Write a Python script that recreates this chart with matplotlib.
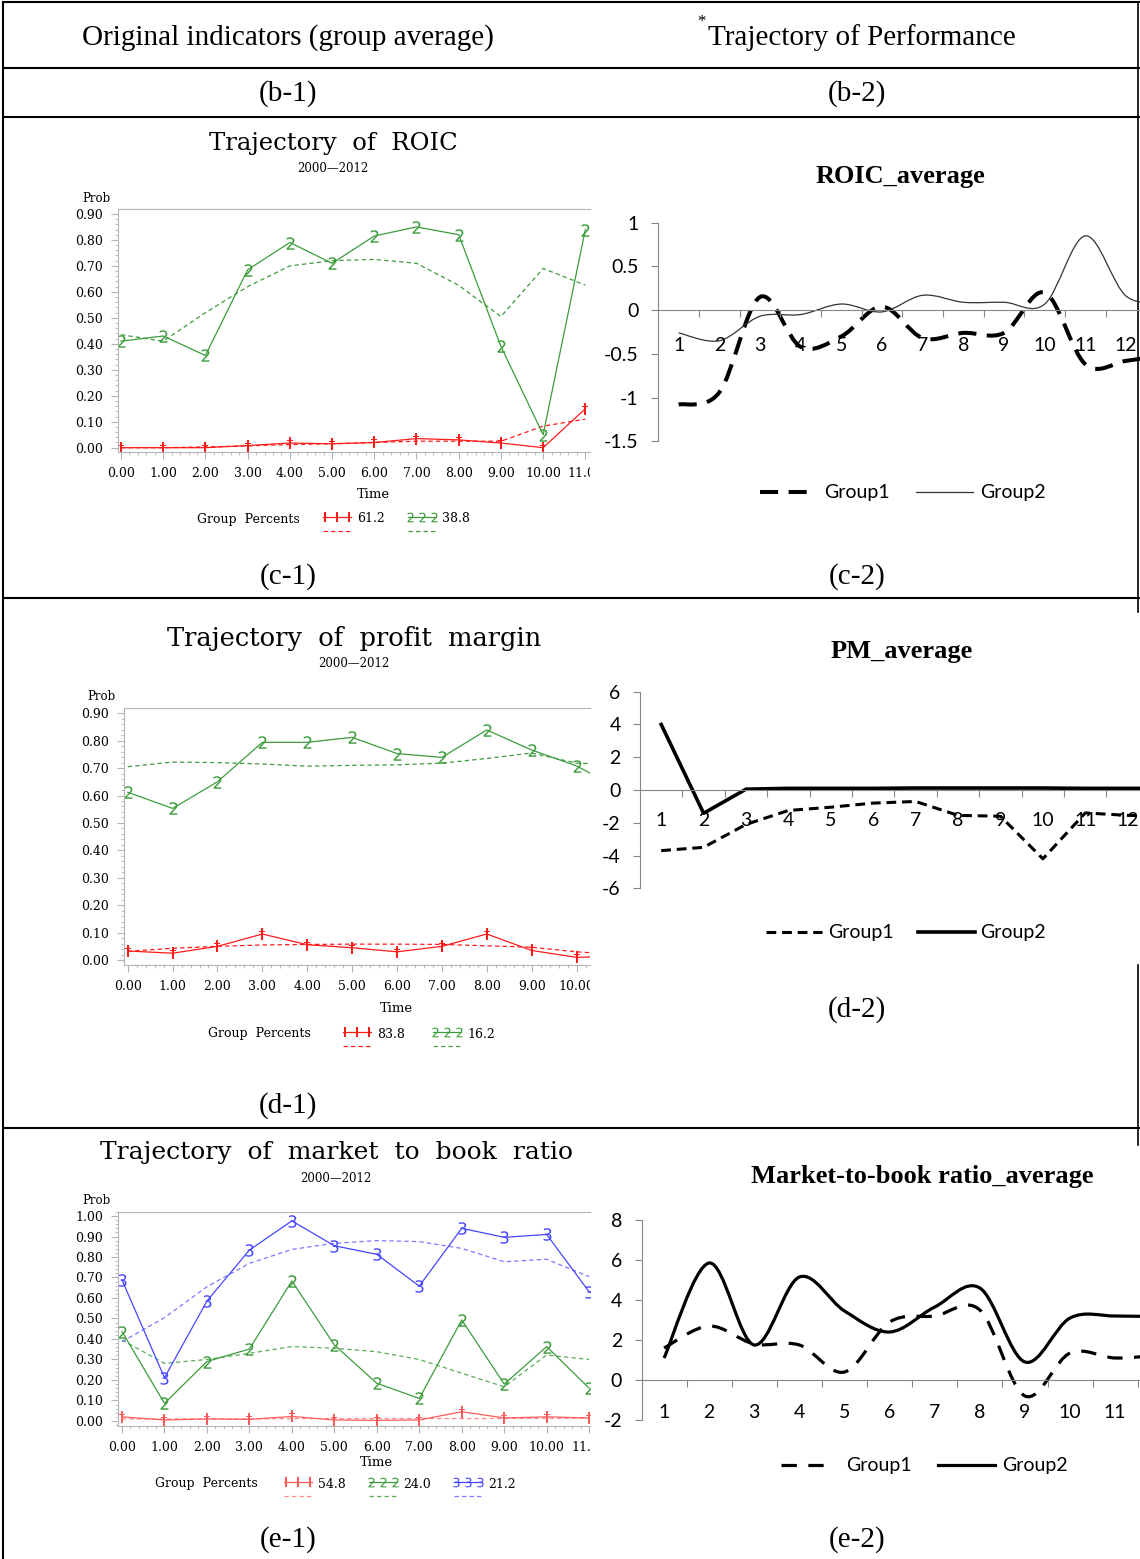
import numpy as np
import matplotlib
matplotlib.use("Agg")
import matplotlib.pyplot as plt
from matplotlib.path import Path
from matplotlib.patches import PathPatch
from matplotlib.ticker import MultipleLocator
from matplotlib.transforms import Bbox, TransformedBbox

plt.rcParams["axes.unicode_minus"] = False

W, H = 1140, 1559
SERIF = "DejaVu Serif"      # SAS graph text
TIMES = "Liberation Serif"  # table / excel titles
SANS = "Lato"               # excel axis text

RED, GREEN, BLUE = "#ff1a1a", "#3c9c3c", "#4646ff"
AXGRAY = "#b4b4b4"
XLGRAY = "#868686"

# ---------------- data: SAS group trajectories (time 0..11) ----------------
time_idx = list(range(12))

roic_g1_obs = [0.0, 0.0, 0.0, 0.008, 0.018, 0.015, 0.02, 0.035, 0.03, 0.018, 0.0, 0.15]
roic_g1_pred = [0.0, 0.0, 0.003, 0.007, 0.012, 0.015, 0.02, 0.025, 0.025, 0.025, 0.083, 0.11]
roic_g2_obs = [0.41, 0.43, 0.355, 0.685, 0.79, 0.71, 0.815, 0.85, 0.82, 0.39, 0.05, 0.84]
roic_g2_pred = [0.435, 0.41, 0.52, 0.62, 0.70, 0.72, 0.725, 0.71, 0.625, 0.505, 0.69, 0.626]
roic_pct = ["61.2", "38.8"]

pm_g1_obs = [0.033, 0.025, 0.05, 0.095, 0.056, 0.045, 0.03, 0.05, 0.095, 0.035, 0.01, 0.015]
pm_g1_pred = [0.032, 0.043, 0.05, 0.055, 0.057, 0.058, 0.058, 0.057, 0.052, 0.047, 0.03, 0.02]
pm_g2_obs = [0.612, 0.553, 0.65, 0.794, 0.794, 0.812, 0.753, 0.739, 0.839, 0.766, 0.708, 0.62]
pm_g2_pred = [0.705, 0.722, 0.72, 0.715, 0.707, 0.71, 0.712, 0.718, 0.735, 0.755, 0.718, 0.715]
pm_pct = ["83.8", "16.2"]

mb_g1_obs = [0.02, 0.005, 0.01, 0.008, 0.022, 0.005, 0.003, 0.005, 0.045, 0.015, 0.02, 0.015]
mb_g1_pred = [0.01, 0.01, 0.01, 0.01, 0.012, 0.012, 0.012, 0.012, 0.012, 0.012, 0.013, 0.013]
mb_g2_obs = [0.436, 0.086, 0.29, 0.351, 0.683, 0.371, 0.184, 0.11, 0.493, 0.18, 0.363, 0.16]
mb_g2_pred = [0.395, 0.281, 0.30, 0.33, 0.363, 0.355, 0.338, 0.30, 0.233, 0.167, 0.322, 0.30]
mb_g3_obs = [0.688, 0.211, 0.585, 0.834, 0.976, 0.855, 0.813, 0.658, 0.94, 0.896, 0.91, 0.63]
mb_g3_pred = [0.387, 0.504, 0.655, 0.769, 0.837, 0.867, 0.88, 0.875, 0.842, 0.777, 0.789, 0.704]
mb_pct = ["54.8", "24.0", "21.2"]

# ---------------- data: Excel group averages (year 1..) ----------------
roic_years = list(range(1, 14))
roic_avg_g1 = [-1.08, -0.94, 0.15, -0.42, -0.30, 0.04, -0.32, -0.26, -0.26, 0.20, -0.62, -0.58, -0.5]
roic_avg_g2 = [-0.26, -0.35, -0.07, -0.05, 0.07, -0.02, 0.17, 0.09, 0.09, 0.07, 0.85, 0.16, 0.1]

pm_years = list(range(1, 14))
pm_avg_g1 = [-3.7, -3.5, -2.1, -1.25, -1.05, -0.8, -0.7, -1.55, -1.6, -4.2, -1.4, -1.55, -1.6]
pm_avg_g2 = [4.0, -1.42, 0.05, 0.1, 0.1, 0.1, 0.12, 0.12, 0.12, 0.12, 0.1, 0.1, 0.1]

mb_years = list(range(1, 13))
mb_avg_g1 = [1.6, 2.7, 1.8, 1.75, 0.4, 2.9, 3.2, 3.5, -0.8, 1.35, 1.1, 1.25]
mb_avg_g2 = [1.1, 5.85, 1.75, 5.15, 3.45, 2.4, 3.65, 4.6, 0.9, 3.1, 3.2, 3.15]

fig = plt.figure(figsize=(W / 100, H / 100), dpi=100)

# overlay in pixel coordinates for the table frame and captions
ov = fig.add_axes([0, 0, 1, 1], zorder=0)
ov.set_xlim(0, W)
ov.set_ylim(H, 0)
ov.axis("off")


def px_axes(x0, y0, x1, y1):
    ax = fig.add_axes([x0 / W, 1 - y1 / H, (x1 - x0) / W, (y1 - y0) / H], zorder=1)
    ax.set_facecolor("none")
    return ax


def smooth_path(xs, ys):
    # excel-style smoothed line as cubic bezier segments
    pts = np.column_stack([xs, ys]).astype(float)
    n = len(pts)
    verts, codes = [pts[0]], [Path.MOVETO]
    for i in range(n - 1):
        p0 = pts[i - 1] if i > 0 else pts[i]
        p1, p2 = pts[i], pts[i + 1]
        p3 = pts[i + 2] if i + 2 < n else pts[i + 1]
        verts += [p1 + (p2 - p0) / 6, p2 - (p3 - p1) / 6, p2]
        codes += [Path.CURVE4] * 3
    return Path(verts, codes)


# ---------------- table frame ----------------
LW = 1.5
for y in [2, 68, 117, 598, 1128]:
    ov.plot([3, W], [y, y], color="k", lw=LW, solid_capstyle="butt")
ov.plot([3, 3], [2, H], color="k", lw=LW)
for ya, yb in [(2, 117), (117, 612), (965, 1145)]:
    ov.plot([1138, 1138], [ya, yb], color="k", lw=1.2)

ov.text(288, 38, "Original indicators (group average)", ha="center", va="center",
        fontsize=21, family=TIMES)
ov.text(862, 38, "Trajectory of Performance", ha="center", va="center",
        fontsize=21, family=TIMES)
ov.text(701, 22, "*", ha="center", va="center", fontsize=12, family=TIMES)
for x, y, s in [(288, 94, "(b-1)"), (857, 94, "(b-2)"), (288, 577, "(c-1)"), (857, 577, "(c-2)"),
                (288, 1106, "(d-1)"), (857, 1010, "(d-2)"), (288, 1540, "(e-1)"), (857, 1540, "(e-2)")]:
    ov.text(x, y, s, ha="center", va="center", fontsize=21, family=TIMES)


# ---------------- SAS panels ----------------
def sas_panel(rect, xlim, ylim, yticks, groups, title, tsize, tpos, prob_pos, time_pos, xlab_y,
              legend_y, legend_left, legend_samples):
    ax = px_axes(*rect)
    for s in ["top", "left", "bottom"]:
        ax.spines[s].set_color(AXGRAY)
        ax.spines[s].set_linewidth(0.8)
    ax.spines["right"].set_visible(False)
    ax.set_xticks(time_idx, labels=[f"{v:.2f}" for v in time_idx], fontfamily=SERIF, fontsize=9)
    ax.set_yticks(yticks, labels=[f"{v:.2f}" for v in yticks], fontfamily=SERIF, fontsize=9)
    ax.xaxis.set_minor_locator(MultipleLocator(0.2))
    ax.yaxis.set_minor_locator(MultipleLocator(0.02))
    ax.tick_params(which="major", length=5, color=AXGRAY, width=0.8, pad=6)
    ax.tick_params(which="minor", length=2.5, color=AXGRAY, width=0.6)
    clip = TransformedBbox(Bbox.from_extents(0, 0, 590 / W, 1), fig.transFigure)
    for lbl in ax.get_xticklabels():
        lbl.set_clip_box(clip)
        lbl.set_clip_on(True)
    for obs, pred, color, pcolor, mk in groups:
        ax.plot(time_idx, pred, color=pcolor, lw=0.9, ls=(0, (3.5, 2.5)))
        ax.plot(time_idx, obs, color=color, lw=0.9, marker=mk, ms=9, mew=0, mfc=color)
    ax.set_xlim(*xlim)
    ax.set_ylim(*ylim)
    ov.text(tpos[0], tpos[1], title, ha="center", va="center", fontsize=tsize, family=SERIF)
    ov.text(tpos[0], tpos[1] + 25, "2000\u20142012", ha="center", va="center", fontsize=8.5,
            family=SERIF)
    ov.text(prob_pos[0], prob_pos[1], "Prob", ha="left", va="center", fontsize=8.5, family=SERIF)
    ov.text(time_pos, xlab_y, "Time", ha="center", va="center", fontsize=9.5, family=SERIF)
    ov.text(legend_left, legend_y + 2, "Group  Percents", ha="left", va="center", fontsize=9,
            family=SERIF)
    for (xa, pct), (obs, pred, color, pcolor, mk) in zip(legend_samples, groups):
        ov.plot([xa, xa + 28], [legend_y, legend_y], color=color, lw=0.9)
        ov.plot([xa + 2, xa + 14, xa + 26], [legend_y] * 3, ls="none", marker=mk, ms=7, mew=0,
                color=color)
        ov.plot([xa, xa + 28], [legend_y + 14, legend_y + 14], color=pcolor, lw=0.9,
                ls=(0, (3.5, 2.5)))
        ov.text(xa + 34, legend_y + 2, pct, ha="left", va="center", fontsize=9, family=SERIF)
    return ax


M1, M2, M3 = r"$\dagger$", "$2$", "$3$"
y09 = [round(0.1 * i, 2) for i in range(10)]
y10 = [round(0.1 * i, 2) for i in range(11)]

sas_panel((118, 209, 590, 452), (-0.071, 11.11), (-0.0166, 0.919), y09,
          [(roic_g1_obs, roic_g1_pred, RED, RED, M1), (roic_g2_obs, roic_g2_pred, GREEN, GREEN, M2)],
          "Trajectory  of  ROIC", 17.5, (333, 143), (82, 198), 373, 494, 517, 197,
          [(323, roic_pct[0]), (408, roic_pct[1])])

sas_panel((124.3, 708.3, 590, 965), (-0.076, 10.30), (-0.018, 0.918), y09,
          [(pm_g1_obs, pm_g1_pred, RED, RED, M1), (pm_g2_obs, pm_g2_pred, GREEN, GREEN, M2)],
          "Trajectory  of  profit  margin", 18.5, (354, 638), (87, 696), 396, 1008, 1032, 208,
          [(343, pm_pct[0]), (433, pm_pct[1])])

sas_panel((118.3, 1211.7, 590, 1425.7), (-0.087, 11.02), (-0.023, 1.021), y10,
          [(mb_g1_obs, mb_g1_pred, "#ff5a5a", "#ff8a8a", M1),
           (mb_g2_obs, mb_g2_pred, GREEN, "#5aae5a", M2),
           (mb_g3_obs, mb_g3_pred, BLUE, "#7a7aff", M3)],
          "Trajectory  of  market  to  book  ratio", 18, (336, 1153), (82, 1201), 376, 1462, 1482,
          155, [(284, mb_pct[0]), (369, mb_pct[1]), (454, mb_pct[2])])


# ---------------- Excel panels ----------------
def excel_panel(rect, xlim, ylim, ystep, years, g1, g2, smooth, st1, st2, xpad, title, tpos,
                leg):
    ax = px_axes(*rect)
    ax.spines["top"].set_visible(False)
    ax.spines["right"].set_visible(False)
    ax.spines["bottom"].set_position(("data", 0))
    for s in ["left", "bottom"]:
        ax.spines[s].set_color(XLGRAY)
        ax.spines[s].set_linewidth(0.8)
    yt = np.arange(ylim[0], ylim[1] + 1e-9, ystep)
    ax.set_yticks(yt, labels=[f"{v:g}" for v in yt], fontfamily=SANS, fontsize=14)
    ax.set_xticks(np.arange(1.5, len(years) + 0.5, 1.0), labels=[])
    ax.set_xticks(years, labels=[str(v) for v in years], minor=True, fontfamily=SANS, fontsize=14)
    ax.tick_params(axis="y", length=5, color=XLGRAY, pad=9)
    ax.tick_params(axis="x", which="major", length=5, color=XLGRAY)
    ax.tick_params(axis="x", which="minor", length=0, pad=xpad)
    for ys, st in [(g1, st1), (g2, st2)]:
        if smooth:
            ax.add_patch(PathPatch(smooth_path(years, ys), fill=False, **st))
        else:
            ax.plot(years, ys, **st)
    ax.set_xlim(*xlim)
    ax.set_ylim(*ylim)
    ov.text(tpos[0], tpos[1], title, ha="center", va="center", fontsize=19, family=TIMES,
            fontweight="bold")
    (d0, d1, t1, s0, s1, t2, ly) = leg
    ov.plot([d0, d1], [ly, ly], **st1)
    ov.text(t1, ly, "Group1", ha="left", va="center", fontsize=14, family=SANS)
    ov.plot([s0, s1], [ly, ly], **st2)
    ov.text(t2, ly, "Group2", ha="left", va="center", fontsize=14, family=SANS)
    return ax


dash_roic = dict(color="k", lw=2.9, ls=(0, (4.5, 2.6)))
thin_roic = dict(color="#333333", lw=0.9)
excel_panel((658.3, 222.7, 1140, 441.3), (0.5, 12.34), (-1.5, 1.0), 0.5, roic_years,
            roic_avg_g1, roic_avg_g2, True, dash_roic, thin_roic, 19, "ROIC_average", (900, 176),
            (760, 808, 824, 916, 973, 980, 492))

dash_pm = dict(color="k", lw=2.2, ls=(0, (3.2, 1.9)))
solid_pm = dict(color="k", lw=2.6)
excel_panel((640, 691.7, 1140, 888.3), (0.5, 12.29), (-6, 6), 2, pm_years,
            pm_avg_g1, pm_avg_g2, False, dash_pm, solid_pm, 16, "PM_average", (902, 651),
            (766, 822, 828, 918, 975, 980, 932))

dash_mb = dict(color="k", lw=2.3, ls=(0, (4.8, 3.6)))
solid_mb = dict(color="k", lw=2.3)
excel_panel((641.5, 1220, 1140, 1420), (0.5, 11.55), (-2, 8), 2, mb_years,
            mb_avg_g1, mb_avg_g2, True, dash_mb, solid_mb, 17, "Market-to-book ratio_average",
            (922, 1177), (781, 828, 846, 938, 995, 1002, 1465))

fig.savefig("out.png", dpi=100)
